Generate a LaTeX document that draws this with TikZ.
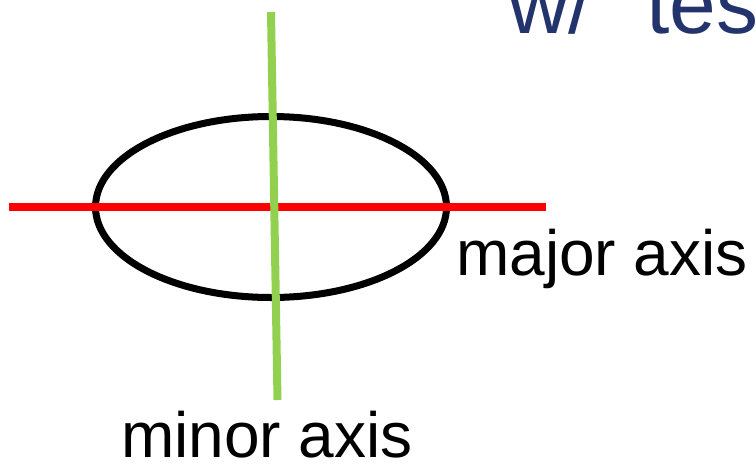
\documentclass[tikz,border=0pt]{standalone}
\usepackage{fontspec}
\setmainfont{Liberation Sans}
\usetikzlibrary{shapes.geometric}
\definecolor{axisgreen}{RGB}{146,208,80}
\definecolor{titleblue}{RGB}{35,51,107}
\tikzset{
  lbl/.style={anchor=base west, inner sep=0pt, font=\fontsize{64}{64}\selectfont, text=black},
  axisline/.style={line cap=butt}
}
\begin{document}
\begin{tikzpicture}[x=1pt,y=-1pt]
\useasboundingbox (0,0) rectangle (756,464);
\clip (0,0) rectangle (756,464);
\node[anchor=base west, inner sep=0pt, text=titleblue, font=\fontsize{84}{84}\selectfont] (title) at (508,33) {w/\hspace{54pt}tes};
\node[draw=black, line width=7pt, ellipse, minimum width=351pt, minimum height=181pt, inner sep=0pt] (ell) at (271,207) {};
\coordinate (rl) at (9,207);
\coordinate (rr) at (546,207);
\coordinate (gt) at (271,12);
\coordinate (gb) at (277.5,400);
\draw[axisline, red, line width=7.5pt] (rl) -- (rr);
\draw[axisline, axisgreen, line width=8pt] (gt) -- (gb);
\node[lbl] (major) at (456,275) {major axis};
\node[lbl] (minor) at (121,457) {minor axis};
\end{tikzpicture}
\end{document}
